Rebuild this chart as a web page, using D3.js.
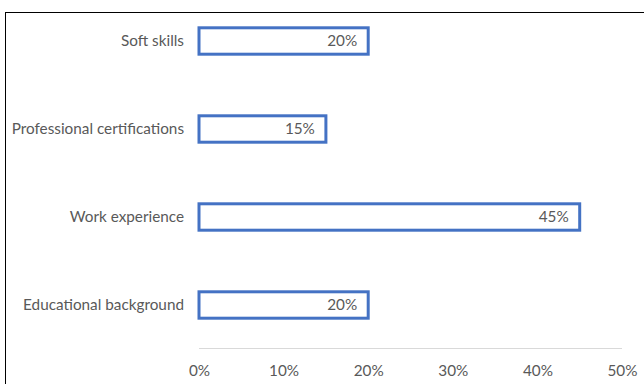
<!DOCTYPE html>
<html>
<head>
<meta charset="utf-8">
<script src="https://cdn.jsdelivr.net/npm/d3@7"></script>
<style>
  html, body { margin: 0; padding: 0; background: #fff; }
  svg { display: block; }
  text { font-family: Lato, "Open Sans", "Liberation Sans", sans-serif; fill: #595959; }
</style>
</head>
<body>
<svg id="chart" width="644" height="384"></svg>
<script>
// Categories listed top to bottom
const categories = ["Soft skills", "Professional certifications", "Work experience", "Educational background"];
const shares = [20, 15, 45, 20];
const tickValues = [0, 10, 20, 30, 40, 50];

const svg = d3.select("#chart");
const W = 644, H = 384;
const FS = 15.3;

// Chart frame (only the top and left edges fall inside the view)
svg.append("rect")
  .attr("x", 5.5).attr("y", 12.5)
  .attr("width", W + 10).attr("height", H + 10)
  .attr("fill", "#fff").attr("stroke", "#000").attr("stroke-width", 1);

const x = d3.scaleLinear().domain([0, 50]).range([199, 622]);
const y = d3.scaleBand().domain(categories).range([-3, 349]).paddingInner(0.7).paddingOuter(0.35);

const data = categories.map((c, i) => ({ cat: c, v: shares[i] }));

// Value axis baseline
svg.append("line")
  .attr("x1", x(0)).attr("x2", x(50))
  .attr("y1", 348.5).attr("y2", 348.5)
  .attr("stroke", "#d9d9d9").attr("stroke-width", 1);

// Value axis labels
const xAxis = d3.axisBottom(x).tickValues(tickValues).tickFormat(d => d + "%").tickSize(0).tickPadding(0);
const gx = svg.append("g").attr("transform", "translate(0,365)").call(xAxis);
gx.select(".domain").remove();
gx.selectAll("text").attr("font-size", FS).attr("dy", "0.71em").style("fill", "#595959")
  .style("font-family", "Lato, 'Open Sans', sans-serif");

// Category labels
const yAxis = d3.axisLeft(y).tickSize(0).tickPadding(0);
const gy = svg.append("g").attr("transform", "translate(184,0)").call(yAxis);
gy.select(".domain").remove();
gy.selectAll("text").attr("font-size", FS).style("fill", "#595959")
  .style("font-family", "Lato, 'Open Sans', sans-serif");

// Bars: white fill with blue outline
svg.selectAll("rect.bar").data(data).join("rect")
  .attr("class", "bar")
  .attr("x", x(0))
  .attr("y", d => y(d.cat))
  .attr("width", d => x(d.v) - x(0))
  .attr("height", y.bandwidth())
  .attr("fill", "#fff")
  .attr("stroke", "#4472C4")
  .attr("stroke-width", 3);

// Value labels inside the bar ends
svg.selectAll("text.val").data(data).join("text")
  .attr("class", "val")
  .attr("x", d => x(d.v) - 11)
  .attr("y", d => y(d.cat) + y.bandwidth() / 2)
  .attr("dy", "0.35em")
  .attr("text-anchor", "end")
  .attr("font-size", FS)
  .text(d => d.v + "%");
</script>
</body>
</html>
